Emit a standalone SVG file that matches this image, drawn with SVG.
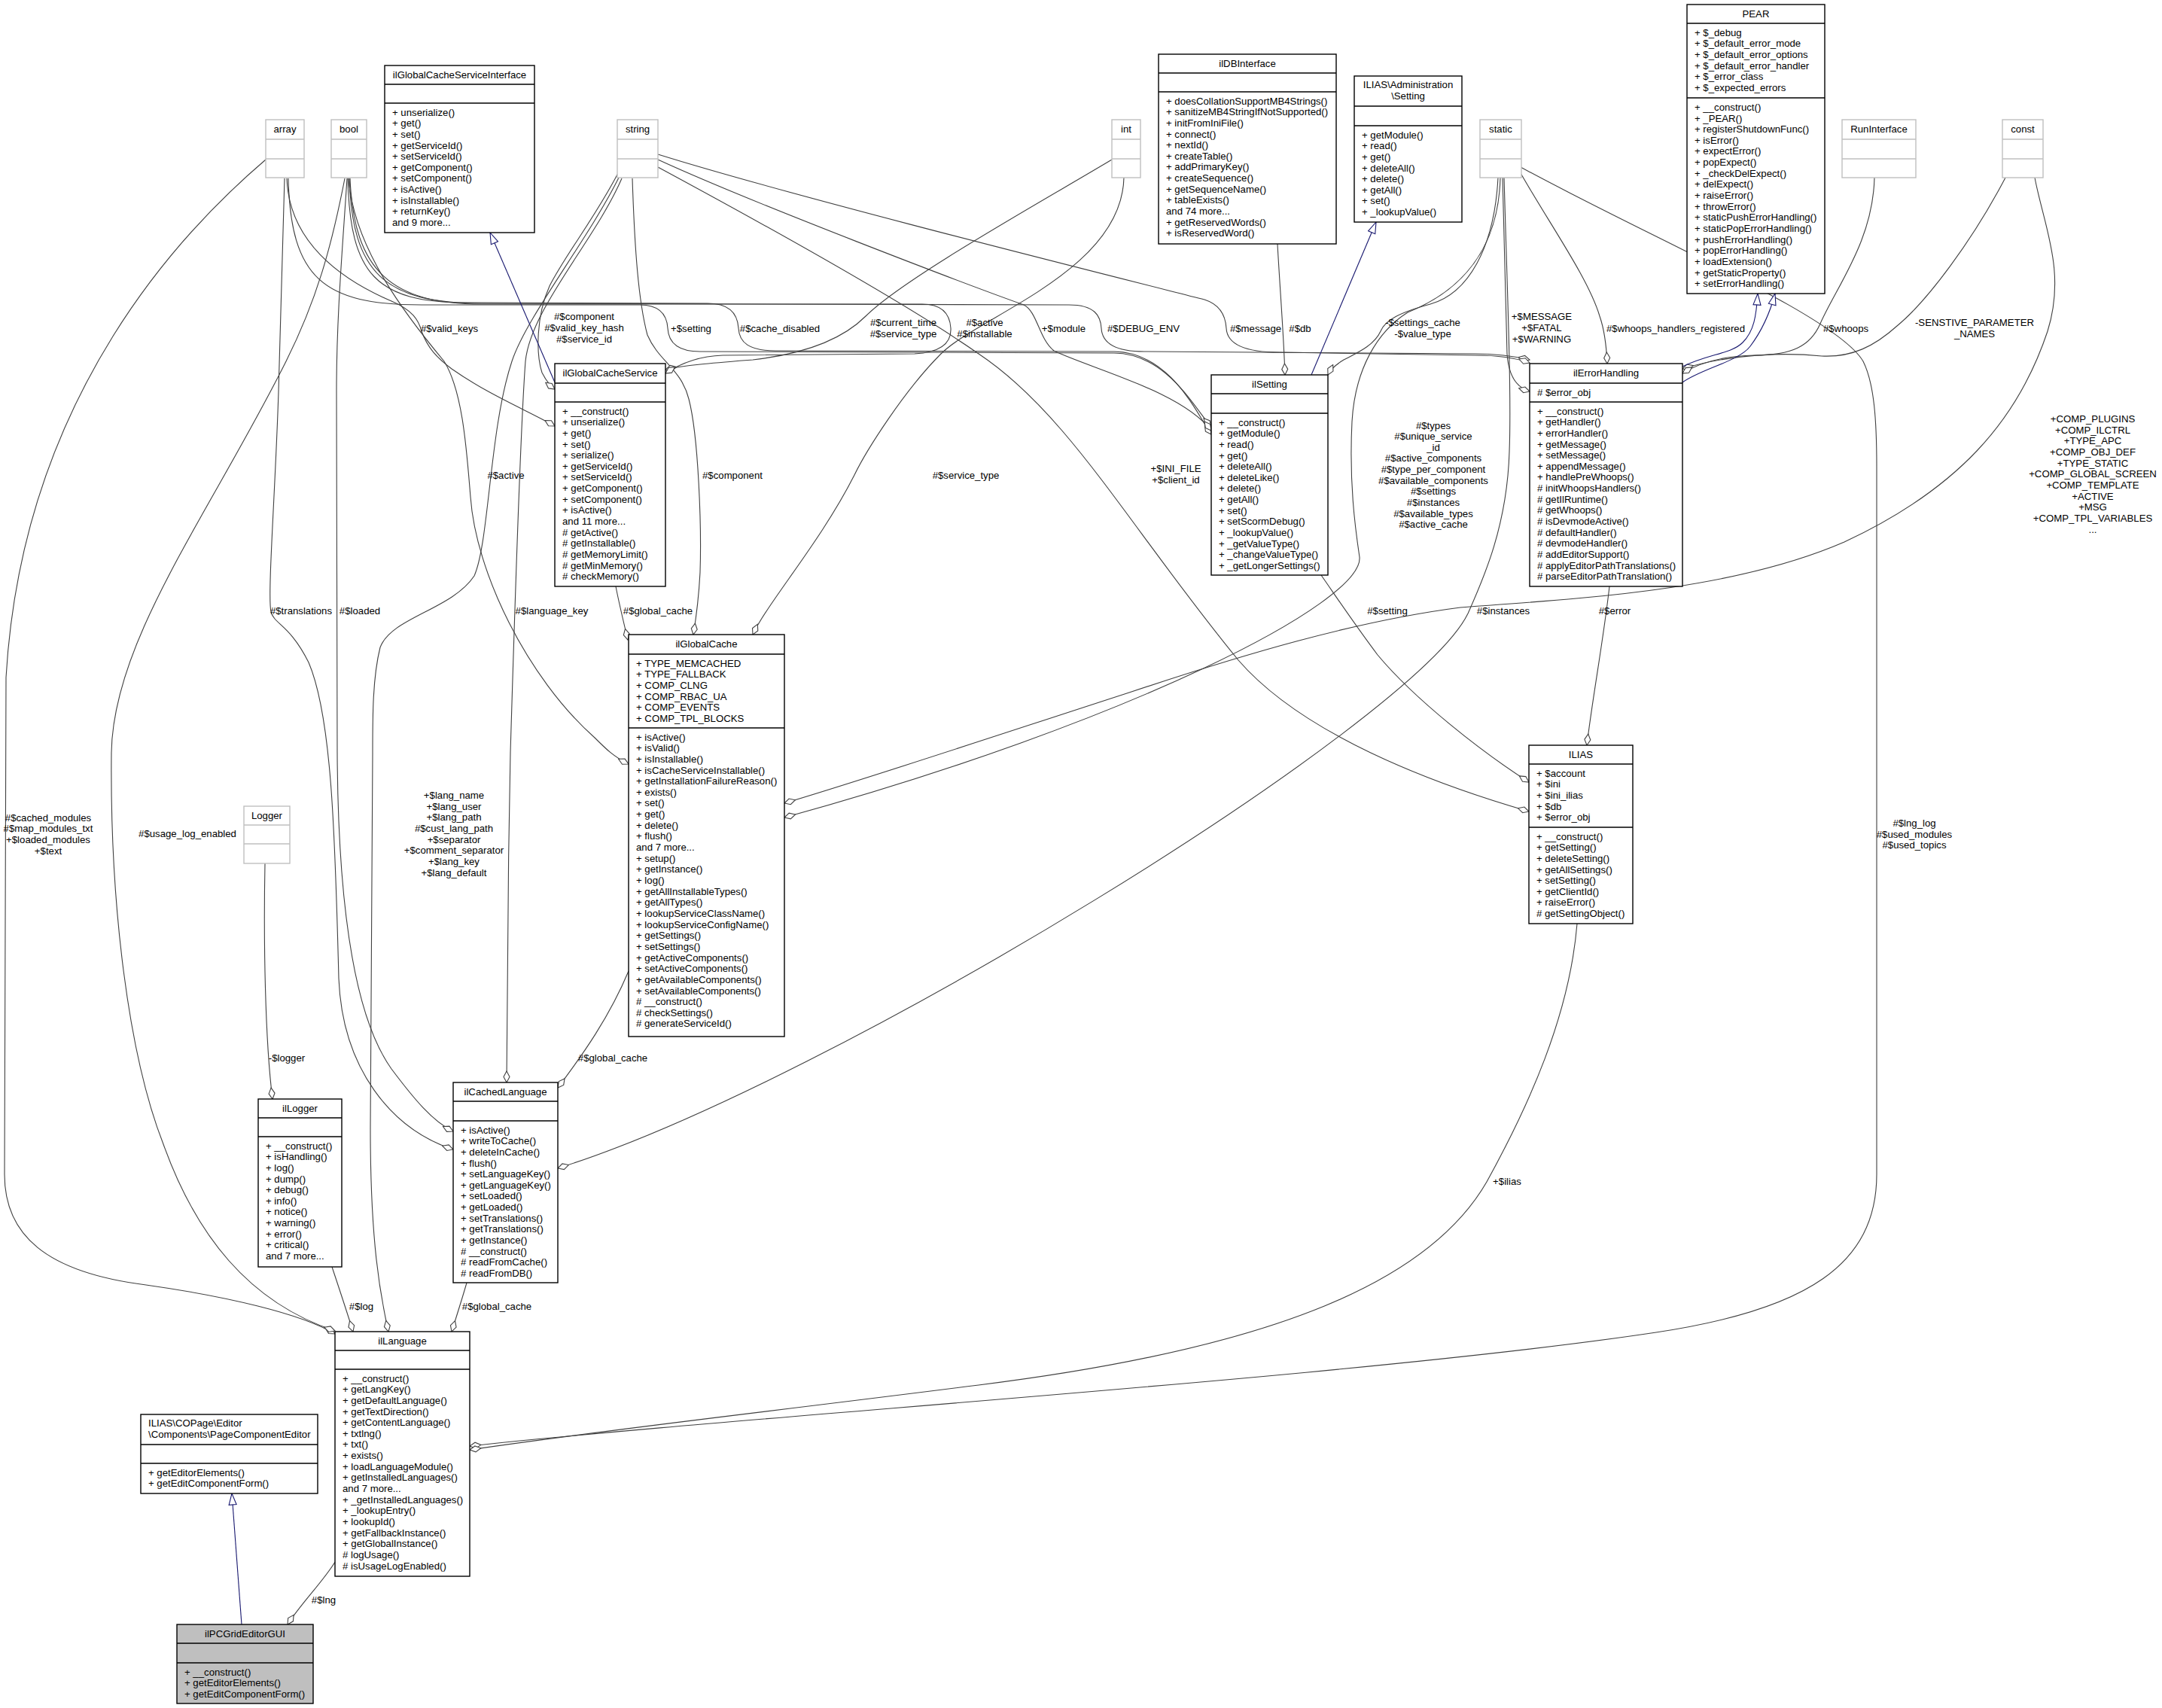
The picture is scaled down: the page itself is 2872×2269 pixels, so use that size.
<svg xmlns="http://www.w3.org/2000/svg" width="2872" height="2269" viewBox="0 0 2872 2269">
<style>
.t{font-family:"Liberation Sans",Arial,Helvetica,sans-serif;font-size:13.2px;fill:#000}
.c{text-anchor:middle}
.n rect{fill:#fff;stroke:#000;stroke-width:1.4}
.n line{stroke:#000;stroke-width:1.4}
.u rect{fill:#fff;stroke:#bfbfbf;stroke-width:1.4}
.u line{stroke:#bfbfbf;stroke-width:1.4}
.root rect{fill:#bfbfbf}
.e{fill:none;stroke:#404040;stroke-width:1.1;marker-end:url(#dia)}
.i{fill:none;stroke:#191970;stroke-width:1.1;marker-end:url(#tri)}
</style>
<defs>
<marker id="dia" markerWidth="17" markerHeight="10" refX="16" refY="5" orient="auto" markerUnits="userSpaceOnUse"><path d="M1,5 L8.5,1 L16,5 L8.5,9 Z" fill="#fff" stroke="#404040" stroke-width="1.1"/></marker>
<marker id="tri" markerWidth="17" markerHeight="13" refX="16" refY="6.5" orient="auto" markerUnits="userSpaceOnUse"><path d="M1,1.5 L16,6.5 L1,11.5 Z" fill="#fff" stroke="#191970" stroke-width="1.1"/></marker>
</defs>
<rect x="0" y="0" width="2872" height="2269" fill="#fff"/>

<g id="connectors">
<path class="e" d="M353,212 C250,300 30,520 8,900 L6,1560 C6,1640 60,1690 194,1707 C300,1722 400,1745 445,1772"/>
<path class="e" d="M458,237 C440,330 420,400 380,480 C280,680 150,850 148,1000 C146,1200 170,1400 217,1520 C260,1640 330,1730 445,1768"/>
<path class="e" d="M378,237 C375,350 372,450 370,520 C366,650 355,790 360,813 C365,830 385,830 410,880 C440,950 445,1100 450,1300 C455,1420 520,1500 602,1527"/>
<path class="e" d="M461,237 C455,330 447,420 447,520 L448,1000 C449,1200 470,1350 520,1420 C550,1460 575,1490 602,1503"/>
<path class="e" d="M822,236 C780,320 700,420 680,480 C650,570 650,720 630,765 C600,810 520,820 505,860 C495,900 495,950 495,1000 L492,1500 C492,1650 505,1720 516,1769"/>
<path class="e" d="M826,237 C790,320 705,410 698,480 C692,560 684,800 678,1000 C675,1150 673,1330 673,1438"/>
<path class="e" d="M821,230 C790,290 750,340 730,380 C712,420 712,470 720,495 C725,505 730,512 737,517"/>
<path class="e" d="M381,237 C384,320 450,370 520,400 C548,412 556,425 560,440 C568,462 580,475 600,490 C650,525 700,545 737,566"/>
<path class="e" d="M818,779 C822,800 828,825 834,850"/>
<path class="e" d="M840,237 C843,330 848,400 860,445 C875,480 905,490 915,530 C928,580 932,700 930,760 C928,800 924,825 921,843"/>
<path class="e" d="M463,237 C470,330 540,420 590,480 C615,520 620,600 625,660 C632,760 700,900 790,980 C805,995 815,1005 835,1015"/>
<path class="e" d="M1493,236 C1490,360 1300,420 1250,470 C1200,520 1150,600 1135,631 C1090,720 1020,800 1000,843"/>
<path class="e" d="M1477,212 C1380,270 1200,370 1150,420 C1120,450 1070,470 1000,478 C950,482 910,485 884,491"/>
<path class="e" d="M465,237 C470,360 520,404 640,404 L1225,404 C1255,404 1262,420 1263,436 C1264,455 1250,468 1215,470 L960,472 C930,473 905,482 884,496"/>
<path class="e" d="M383,237 C386,370 430,405 560,405 L850,405 C878,405 886,420 887,436 C888,455 900,467 930,467 L1480,469 C1550,470 1585,540 1609,567"/>
<path class="e" d="M462,237 C465,365 500,402 620,402 L940,403 C972,403 980,420 981,436 C982,455 995,466 1030,466 L1480,467 C1555,468 1590,550 1609,577"/>
<path class="e" d="M874,212 C1000,270 1290,380 1360,405 C1378,414 1380,450 1400,466 C1450,490 1570,520 1609,572"/>
<path class="e" d="M464,237 C468,362 510,403 640,403 L1420,405 C1455,405 1462,420 1463,436 C1464,455 1480,467 1520,467 L1960,470 C1995,470 2015,474 2032,478"/>
<path class="e" d="M874,205 C1050,260 1450,360 1600,398 C1622,405 1628,420 1629,436 C1630,455 1650,468 1700,468 L1960,472 C1995,472 2015,476 2032,482"/>
<path class="e" d="M1697,324 C1700,380 1705,440 1707,498"/>
<path class="e" d="M1990,236 C1985,330 1950,390 1900,404 C1860,415 1840,425 1834,440 C1825,460 1800,470 1785,478 C1775,484 1768,490 1764,498"/>
<path class="e" d="M1993,236 C1990,350 1920,395 1870,415 C1830,440 1800,490 1796,560 C1792,640 1800,700 1806,740 C1812,800 1500,960 1042,1086"/>
<path class="e" d="M1998,236 C2002,380 2008,520 2005,600 C2002,700 1970,770 1950,815 C1880,960 1100,1440 741,1552"/>
<path class="e" d="M1996,236 C1998,330 2000,420 2002,470 C2004,500 2015,515 2032,520"/>
<path class="e" d="M2020,230 C2060,300 2110,370 2125,420 C2132,440 2134,460 2135,483"/>
<path class="e" d="M2020,222 C2200,320 2440,420 2475,480 C2490,510 2493,560 2493,620 L2493,1560 C2493,1680 2400,1740 2200,1770 C1800,1830 1000,1880 624,1921"/>
<path class="e" d="M2095,1227 C2085,1350 2030,1470 1975,1570 C1900,1700 1700,1790 1300,1840 C1000,1878 800,1900 624,1926"/>
<path class="e" d="M874,222 C1000,290 1200,400 1300,470 C1420,550 1500,700 1645,877 C1730,975 1900,1040 2031,1078"/>
<path class="e" d="M1755,764 C1780,800 1800,830 1830,870 C1880,930 1970,1000 2031,1039"/>
<path class="e" d="M2138,779 C2130,850 2115,930 2108,990"/>
<path class="e" d="M2703,236 C2715,300 2745,360 2720,440 C2680,560 2600,650 2450,720 C2300,785 2100,795 1940,807 C1800,825 1650,870 1500,920 C1300,985 1150,1035 1042,1067"/>
<path class="e" d="M2664,236 C2620,320 2560,400 2520,433 C2490,460 2460,475 2420,473 C2370,468 2300,470 2235,490"/>
<path class="e" d="M2490,236 C2488,320 2440,380 2418,430 C2405,460 2380,472 2330,472 C2290,473 2260,480 2235,496"/>
<path class="e" d="M445,2075 C430,2100 400,2130 382,2158"/>
<path class="e" d="M441,1683 C450,1710 460,1740 469,1769"/>
<path class="e" d="M620,1704 C614,1725 606,1750 600,1769"/>
<path class="e" d="M352,1147 C350,1250 352,1380 362,1460"/>
<path class="e" d="M835,1290 C810,1350 775,1400 741,1445"/>
<path class="i" d="M2235,508 C2260,490 2310,480 2325,460 C2340,440 2350,420 2358,390"/>
<path class="i" d="M2235,487 C2270,470 2300,470 2315,455 C2330,440 2333,420 2335,390"/>
<path class="i" d="M1742,498 L1828,295"/>
<path class="i" d="M737,508 L651,309"/>
<path class="i" d="M321,2158 L308,1984"/>
<g id="edge-labels" class="t">
<text class="t c" x="597" y="440.5">#$valid_keys</text>
<text class="t c" x="776" y="425">#$component</text>
<text class="t c" x="776" y="440">#$valid_key_hash</text>
<text class="t c" x="776" y="455">#$service_id</text>
<text class="t c" x="918" y="440.5">+$setting</text>
<text class="t c" x="1036" y="440.5">#$cache_disabled</text>
<text class="t c" x="1200" y="433">#$current_time</text>
<text class="t c" x="1200" y="447.5">#$service_type</text>
<text class="t c" x="1308" y="433">#$active</text>
<text class="t c" x="1308" y="447.5">#$installable</text>
<text class="t c" x="1413" y="440.5">+$module</text>
<text class="t c" x="1519" y="440.5">#$DEBUG_ENV</text>
<text class="t c" x="1668" y="440.5">#$message</text>
<text class="t c" x="1727" y="440.5">#$db</text>
<text class="t c" x="1890" y="433">-$settings_cache</text>
<text class="t c" x="1890" y="447.5">-$value_type</text>
<text class="t c" x="2048" y="425">+$MESSAGE</text>
<text class="t c" x="2048" y="439.5">+$FATAL</text>
<text class="t c" x="2048" y="454.5">+$WARNING</text>
<text class="t c" x="2226" y="440.5">#$whoops_handlers_registered</text>
<text class="t c" x="2452" y="440.5">#$whoops</text>
<text class="t c" x="2623" y="433">-SENSTIVE_PARAMETER</text>
<text class="t c" x="2623" y="447.5">_NAMES</text>
<text class="t c" x="2780" y="561">+COMP_PLUGINS</text>
<text class="t c" x="2780" y="575.7">+COMP_ILCTRL</text>
<text class="t c" x="2780" y="590.3">+TYPE_APC</text>
<text class="t c" x="2780" y="605">+COMP_OBJ_DEF</text>
<text class="t c" x="2780" y="619.7">+TYPE_STATIC</text>
<text class="t c" x="2780" y="634.3">+COMP_GLOBAL_SCREEN</text>
<text class="t c" x="2780" y="649">+COMP_TEMPLATE</text>
<text class="t c" x="2780" y="663.7">+ACTIVE</text>
<text class="t c" x="2780" y="678.3">+MSG</text>
<text class="t c" x="2780" y="693">+COMP_TPL_VARIABLES</text>
<text class="t c" x="2780" y="707.7">...</text>
<text class="t c" x="672" y="635.5">#$active</text>
<text class="t c" x="973" y="635.5">#$component</text>
<text class="t c" x="1283" y="635.5">#$service_type</text>
<text class="t c" x="1562" y="627">+$INI_FILE</text>
<text class="t c" x="1562" y="642">+$client_id</text>
<text class="t c" x="1904" y="569.5">#$types</text>
<text class="t c" x="1904" y="584.1">#$unique_service</text>
<text class="t c" x="1904" y="598.8">_id</text>
<text class="t c" x="1904" y="613.4">#$active_components</text>
<text class="t c" x="1904" y="628.1">#$type_per_component</text>
<text class="t c" x="1904" y="642.7">#$available_components</text>
<text class="t c" x="1904" y="657.4">#$settings</text>
<text class="t c" x="1904" y="672">#$instances</text>
<text class="t c" x="1904" y="686.7">#$available_types</text>
<text class="t c" x="1904" y="701.3">#$active_cache</text>
<text class="t c" x="400" y="815.5">#$translations</text>
<text class="t c" x="478" y="815.5">#$loaded</text>
<text class="t c" x="733" y="815.5">#$language_key</text>
<text class="t c" x="874" y="815.5">#$global_cache</text>
<text class="t c" x="1843" y="815.5">#$setting</text>
<text class="t c" x="1997" y="815.5">#$instances</text>
<text class="t c" x="2145" y="815.5">#$error</text>
<text class="t c" x="64" y="1090.5">#$cached_modules</text>
<text class="t c" x="64" y="1105">#$map_modules_txt</text>
<text class="t c" x="64" y="1119.5">+$loaded_modules</text>
<text class="t c" x="64" y="1134.5">+$text</text>
<text class="t c" x="249" y="1112">#$usage_log_enabled</text>
<text class="t c" x="603" y="1061">+$lang_name</text>
<text class="t c" x="603" y="1075.6">+$lang_user</text>
<text class="t c" x="603" y="1090.3">+$lang_path</text>
<text class="t c" x="603" y="1104.9">#$cust_lang_path</text>
<text class="t c" x="603" y="1119.6">+$separator</text>
<text class="t c" x="603" y="1134.2">+$comment_separator</text>
<text class="t c" x="603" y="1148.9">+$lang_key</text>
<text class="t c" x="603" y="1163.5">+$lang_default</text>
<text class="t c" x="2543" y="1098">#$lng_log</text>
<text class="t c" x="2543" y="1112.5">#$used_modules</text>
<text class="t c" x="2543" y="1127">#$used_topics</text>
<text class="t c" x="381" y="1409.5">-$logger</text>
<text class="t c" x="814" y="1409.5">#$global_cache</text>
<text class="t c" x="2002" y="1574">+$ilias</text>
<text class="t c" x="480" y="1740">#$log</text>
<text class="t c" x="660" y="1740">#$global_cache</text>
<text class="t c" x="430" y="2129.5">#$lng</text>
</g>
</g>

<g id="ilGlobalCacheServiceInterface" class="n">
<rect x="511" y="87" width="199" height="222"/>
<line x1="511" y1="112" x2="710" y2="112"/><line x1="511" y1="137" x2="710" y2="137"/>
<text class="t c" x="610.5" y="104">ilGlobalCacheServiceInterface</text>
<text class="t" x="521" y="153.5">+ unserialize()</text>
<text class="t" x="521" y="168.2">+ get()</text>
<text class="t" x="521" y="182.8">+ set()</text>
<text class="t" x="521" y="197.5">+ getServiceId()</text>
<text class="t" x="521" y="212.1">+ setServiceId()</text>
<text class="t" x="521" y="226.8">+ getComponent()</text>
<text class="t" x="521" y="241.4">+ setComponent()</text>
<text class="t" x="521" y="256.1">+ isActive()</text>
<text class="t" x="521" y="270.7">+ isInstallable()</text>
<text class="t" x="521" y="285.4">+ returnKey()</text>
<text class="t" x="521" y="300">and 9 more...</text>
</g>

<g id="array" class="u">
<rect x="353" y="159" width="51" height="77"/>
<line x1="353" y1="185" x2="404" y2="185"/><line x1="353" y1="211" x2="404" y2="211"/>
<text class="t c" x="378.5" y="176">array</text>
</g>
<g id="bool" class="u">
<rect x="440" y="159" width="47" height="77"/>
<line x1="440" y1="185" x2="487" y2="185"/><line x1="440" y1="211" x2="487" y2="211"/>
<text class="t c" x="463.5" y="176">bool</text>
</g>
<g id="string" class="u">
<rect x="820" y="159" width="54" height="77"/>
<line x1="820" y1="185" x2="874" y2="185"/><line x1="820" y1="211" x2="874" y2="211"/>
<text class="t c" x="847" y="176">string</text>
</g>
<g id="int" class="u">
<rect x="1477" y="159" width="38" height="77"/>
<line x1="1477" y1="185" x2="1515" y2="185"/><line x1="1477" y1="211" x2="1515" y2="211"/>
<text class="t c" x="1496" y="176">int</text>
</g>
<g id="static" class="u">
<rect x="1966" y="159" width="55" height="77"/>
<line x1="1966" y1="185" x2="2021" y2="185"/><line x1="1966" y1="211" x2="2021" y2="211"/>
<text class="t c" x="1993.5" y="176">static</text>
</g>
<g id="RunInterface" class="u">
<rect x="2447" y="159" width="98" height="77"/>
<line x1="2447" y1="185" x2="2545" y2="185"/><line x1="2447" y1="211" x2="2545" y2="211"/>
<text class="t c" x="2496" y="176">RunInterface</text>
</g>
<g id="const" class="u">
<rect x="2660" y="159" width="54" height="77"/>
<line x1="2660" y1="185" x2="2714" y2="185"/><line x1="2660" y1="211" x2="2714" y2="211"/>
<text class="t c" x="2687" y="176">const</text>
</g>

<g id="ilDBInterface" class="n">
<rect x="1539" y="72" width="236" height="252"/>
<line x1="1539" y1="97" x2="1775" y2="97"/><line x1="1539" y1="122" x2="1775" y2="122"/>
<text class="t c" x="1657" y="89">ilDBInterface</text>
<text class="t" x="1549" y="138.5">+ doesCollationSupportMB4Strings()</text>
<text class="t" x="1549" y="153.2">+ sanitizeMB4StringIfNotSupported()</text>
<text class="t" x="1549" y="167.8">+ initFromIniFile()</text>
<text class="t" x="1549" y="182.5">+ connect()</text>
<text class="t" x="1549" y="197.1">+ nextId()</text>
<text class="t" x="1549" y="211.8">+ createTable()</text>
<text class="t" x="1549" y="226.4">+ addPrimaryKey()</text>
<text class="t" x="1549" y="241.1">+ createSequence()</text>
<text class="t" x="1549" y="255.7">+ getSequenceName()</text>
<text class="t" x="1549" y="270.4">+ tableExists()</text>
<text class="t" x="1549" y="285">and 74 more...</text>
<text class="t" x="1549" y="299.7">+ getReservedWords()</text>
<text class="t" x="1549" y="314.3">+ isReservedWord()</text>
</g>

<g id="AdministrationSetting" class="n">
<rect x="1799" y="101" width="143" height="194"/>
<line x1="1799" y1="141" x2="1942" y2="141"/><line x1="1799" y1="167" x2="1942" y2="167"/>
<text class="t c" x="1870.5" y="117">ILIAS\Administration</text>
<text class="t c" x="1870.5" y="132">\Setting</text>
<text class="t" x="1809" y="183.5">+ getModule()</text>
<text class="t" x="1809" y="198.2">+ read()</text>
<text class="t" x="1809" y="212.8">+ get()</text>
<text class="t" x="1809" y="227.5">+ deleteAll()</text>
<text class="t" x="1809" y="242.1">+ delete()</text>
<text class="t" x="1809" y="256.8">+ getAll()</text>
<text class="t" x="1809" y="271.4">+ set()</text>
<text class="t" x="1809" y="286.1">+ _lookupValue()</text>
</g>

<g id="PEAR" class="n">
<rect x="2241" y="6" width="183" height="384"/>
<line x1="2241" y1="31" x2="2424" y2="31"/><line x1="2241" y1="130" x2="2424" y2="130"/>
<text class="t c" x="2332.5" y="23">PEAR</text>
<text class="t" x="2251" y="47.5">+ $_debug</text>
<text class="t" x="2251" y="62.2">+ $_default_error_mode</text>
<text class="t" x="2251" y="76.8">+ $_default_error_options</text>
<text class="t" x="2251" y="91.5">+ $_default_error_handler</text>
<text class="t" x="2251" y="106.1">+ $_error_class</text>
<text class="t" x="2251" y="120.8">+ $_expected_errors</text>
<text class="t" x="2251" y="146.8">+ __construct()</text>
<text class="t" x="2251" y="161.5">+ _PEAR()</text>
<text class="t" x="2251" y="176.1">+ registerShutdownFunc()</text>
<text class="t" x="2251" y="190.8">+ isError()</text>
<text class="t" x="2251" y="205.4">+ expectError()</text>
<text class="t" x="2251" y="220.1">+ popExpect()</text>
<text class="t" x="2251" y="234.7">+ _checkDelExpect()</text>
<text class="t" x="2251" y="249.4">+ delExpect()</text>
<text class="t" x="2251" y="264">+ raiseError()</text>
<text class="t" x="2251" y="278.7">+ throwError()</text>
<text class="t" x="2251" y="293.3">+ staticPushErrorHandling()</text>
<text class="t" x="2251" y="308">+ staticPopErrorHandling()</text>
<text class="t" x="2251" y="322.6">+ pushErrorHandling()</text>
<text class="t" x="2251" y="337.3">+ popErrorHandling()</text>
<text class="t" x="2251" y="351.9">+ loadExtension()</text>
<text class="t" x="2251" y="366.6">+ getStaticProperty()</text>
<text class="t" x="2251" y="381.2">+ setErrorHandling()</text>
</g>

<g id="ilGlobalCacheService" class="n">
<rect x="737" y="483" width="147" height="296"/>
<line x1="737" y1="509" x2="884" y2="509"/><line x1="737" y1="534" x2="884" y2="534"/>
<text class="t c" x="810.5" y="500">ilGlobalCacheService</text>
<text class="t" x="747" y="550.5">+ __construct()</text>
<text class="t" x="747" y="565.2">+ unserialize()</text>
<text class="t" x="747" y="579.8">+ get()</text>
<text class="t" x="747" y="594.5">+ set()</text>
<text class="t" x="747" y="609.1">+ serialize()</text>
<text class="t" x="747" y="623.8">+ getServiceId()</text>
<text class="t" x="747" y="638.4">+ setServiceId()</text>
<text class="t" x="747" y="653.1">+ getComponent()</text>
<text class="t" x="747" y="667.7">+ setComponent()</text>
<text class="t" x="747" y="682.4">+ isActive()</text>
<text class="t" x="747" y="697">and 11 more...</text>
<text class="t" x="747" y="711.7"># getActive()</text>
<text class="t" x="747" y="726.3"># getInstallable()</text>
<text class="t" x="747" y="741"># getMemoryLimit()</text>
<text class="t" x="747" y="755.6"># getMinMemory()</text>
<text class="t" x="747" y="770.3"># checkMemory()</text>
</g>

<g id="ilSetting" class="n">
<rect x="1609" y="498" width="155" height="266"/>
<line x1="1609" y1="523" x2="1764" y2="523"/><line x1="1609" y1="549" x2="1764" y2="549"/>
<text class="t c" x="1686.5" y="515">ilSetting</text>
<text class="t" x="1619" y="565.5">+ __construct()</text>
<text class="t" x="1619" y="580.2">+ getModule()</text>
<text class="t" x="1619" y="594.8">+ read()</text>
<text class="t" x="1619" y="609.5">+ get()</text>
<text class="t" x="1619" y="624.1">+ deleteAll()</text>
<text class="t" x="1619" y="638.8">+ deleteLike()</text>
<text class="t" x="1619" y="653.4">+ delete()</text>
<text class="t" x="1619" y="668.1">+ getAll()</text>
<text class="t" x="1619" y="682.7">+ set()</text>
<text class="t" x="1619" y="697.4">+ setScormDebug()</text>
<text class="t" x="1619" y="712">+ _lookupValue()</text>
<text class="t" x="1619" y="726.7">+ _getValueType()</text>
<text class="t" x="1619" y="741.3">+ _changeValueType()</text>
<text class="t" x="1619" y="756">+ _getLongerSettings()</text>
</g>

<g id="ilErrorHandling" class="n">
<rect x="2032" y="483" width="203" height="296"/>
<line x1="2032" y1="509" x2="2235" y2="509"/><line x1="2032" y1="534" x2="2235" y2="534"/>
<text class="t c" x="2133.5" y="500">ilErrorHandling</text>
<text class="t" x="2042" y="525.5"># $error_obj</text>
<text class="t" x="2042" y="550.5">+ __construct()</text>
<text class="t" x="2042" y="565.2">+ getHandler()</text>
<text class="t" x="2042" y="579.8">+ errorHandler()</text>
<text class="t" x="2042" y="594.5">+ getMessage()</text>
<text class="t" x="2042" y="609.1">+ setMessage()</text>
<text class="t" x="2042" y="623.8">+ appendMessage()</text>
<text class="t" x="2042" y="638.4">+ handlePreWhoops()</text>
<text class="t" x="2042" y="653.1"># initWhoopsHandlers()</text>
<text class="t" x="2042" y="667.7"># getIlRuntime()</text>
<text class="t" x="2042" y="682.4"># getWhoops()</text>
<text class="t" x="2042" y="697"># isDevmodeActive()</text>
<text class="t" x="2042" y="711.7"># defaultHandler()</text>
<text class="t" x="2042" y="726.3"># devmodeHandler()</text>
<text class="t" x="2042" y="741"># addEditorSupport()</text>
<text class="t" x="2042" y="755.6"># applyEditorPathTranslations()</text>
<text class="t" x="2042" y="770.3"># parseEditorPathTranslation()</text>
</g>

<g id="ilGlobalCache" class="n">
<rect x="835" y="843" width="207" height="534"/>
<line x1="835" y1="869" x2="1042" y2="869"/><line x1="835" y1="967" x2="1042" y2="967"/>
<text class="t c" x="938.5" y="860">ilGlobalCache</text>
<text class="t" x="845" y="885.5">+ TYPE_MEMCACHED</text>
<text class="t" x="845" y="900.2">+ TYPE_FALLBACK</text>
<text class="t" x="845" y="914.8">+ COMP_CLNG</text>
<text class="t" x="845" y="929.5">+ COMP_RBAC_UA</text>
<text class="t" x="845" y="944.1">+ COMP_EVENTS</text>
<text class="t" x="845" y="958.8">+ COMP_TPL_BLOCKS</text>
<text class="t" x="845" y="983.5">+ isActive()</text>
<text class="t" x="845" y="998.2">+ isValid()</text>
<text class="t" x="845" y="1012.8">+ isInstallable()</text>
<text class="t" x="845" y="1027.5">+ isCacheServiceInstallable()</text>
<text class="t" x="845" y="1042.1">+ getInstallationFailureReason()</text>
<text class="t" x="845" y="1056.8">+ exists()</text>
<text class="t" x="845" y="1071.4">+ set()</text>
<text class="t" x="845" y="1086.1">+ get()</text>
<text class="t" x="845" y="1100.7">+ delete()</text>
<text class="t" x="845" y="1115.4">+ flush()</text>
<text class="t" x="845" y="1130">and 7 more...</text>
<text class="t" x="845" y="1144.7">+ setup()</text>
<text class="t" x="845" y="1159.3">+ getInstance()</text>
<text class="t" x="845" y="1174">+ log()</text>
<text class="t" x="845" y="1188.6">+ getAllInstallableTypes()</text>
<text class="t" x="845" y="1203.3">+ getAllTypes()</text>
<text class="t" x="845" y="1217.9">+ lookupServiceClassName()</text>
<text class="t" x="845" y="1232.6">+ lookupServiceConfigName()</text>
<text class="t" x="845" y="1247.2">+ getSettings()</text>
<text class="t" x="845" y="1261.9">+ setSettings()</text>
<text class="t" x="845" y="1276.5">+ getActiveComponents()</text>
<text class="t" x="845" y="1291.2">+ setActiveComponents()</text>
<text class="t" x="845" y="1305.8">+ getAvailableComponents()</text>
<text class="t" x="845" y="1320.5">+ setAvailableComponents()</text>
<text class="t" x="845" y="1335.1"># __construct()</text>
<text class="t" x="845" y="1349.8"># checkSettings()</text>
<text class="t" x="845" y="1364.4"># generateServiceId()</text>
</g>

<g id="ILIAS" class="n">
<rect x="2031" y="990" width="138" height="237"/>
<line x1="2031" y1="1015" x2="2169" y2="1015"/><line x1="2031" y1="1099" x2="2169" y2="1099"/>
<text class="t c" x="2100" y="1007">ILIAS</text>
<text class="t" x="2041" y="1031.5">+ $account</text>
<text class="t" x="2041" y="1046.2">+ $ini</text>
<text class="t" x="2041" y="1060.8">+ $ini_ilias</text>
<text class="t" x="2041" y="1075.5">+ $db</text>
<text class="t" x="2041" y="1090.1">+ $error_obj</text>
<text class="t" x="2041" y="1115.5">+ __construct()</text>
<text class="t" x="2041" y="1130.2">+ getSetting()</text>
<text class="t" x="2041" y="1144.8">+ deleteSetting()</text>
<text class="t" x="2041" y="1159.5">+ getAllSettings()</text>
<text class="t" x="2041" y="1174.1">+ setSetting()</text>
<text class="t" x="2041" y="1188.8">+ getClientId()</text>
<text class="t" x="2041" y="1203.4">+ raiseError()</text>
<text class="t" x="2041" y="1218.1"># getSettingObject()</text>
</g>

<g id="Logger" class="u">
<rect x="324" y="1071" width="61" height="76"/>
<line x1="324" y1="1096" x2="385" y2="1096"/><line x1="324" y1="1121" x2="385" y2="1121"/>
<text class="t c" x="354.5" y="1088">Logger</text>
</g>

<g id="ilLogger" class="n">
<rect x="343" y="1460" width="111" height="223"/>
<line x1="343" y1="1485" x2="454" y2="1485"/><line x1="343" y1="1510" x2="454" y2="1510"/>
<text class="t c" x="398.5" y="1477">ilLogger</text>
<text class="t" x="353" y="1526.5">+ __construct()</text>
<text class="t" x="353" y="1541.2">+ isHandling()</text>
<text class="t" x="353" y="1555.8">+ log()</text>
<text class="t" x="353" y="1570.5">+ dump()</text>
<text class="t" x="353" y="1585.1">+ debug()</text>
<text class="t" x="353" y="1599.8">+ info()</text>
<text class="t" x="353" y="1614.4">+ notice()</text>
<text class="t" x="353" y="1629.1">+ warning()</text>
<text class="t" x="353" y="1643.7">+ error()</text>
<text class="t" x="353" y="1658.4">+ critical()</text>
<text class="t" x="353" y="1673">and 7 more...</text>
</g>

<g id="ilCachedLanguage" class="n">
<rect x="602" y="1438" width="139" height="266"/>
<line x1="602" y1="1463" x2="741" y2="1463"/><line x1="602" y1="1489" x2="741" y2="1489"/>
<text class="t c" x="671.5" y="1455">ilCachedLanguage</text>
<text class="t" x="612" y="1505.5">+ isActive()</text>
<text class="t" x="612" y="1520.2">+ writeToCache()</text>
<text class="t" x="612" y="1534.8">+ deleteInCache()</text>
<text class="t" x="612" y="1549.5">+ flush()</text>
<text class="t" x="612" y="1564.1">+ setLanguageKey()</text>
<text class="t" x="612" y="1578.8">+ getLanguageKey()</text>
<text class="t" x="612" y="1593.4">+ setLoaded()</text>
<text class="t" x="612" y="1608.1">+ getLoaded()</text>
<text class="t" x="612" y="1622.7">+ setTranslations()</text>
<text class="t" x="612" y="1637.4">+ getTranslations()</text>
<text class="t" x="612" y="1652">+ getInstance()</text>
<text class="t" x="612" y="1666.7"># __construct()</text>
<text class="t" x="612" y="1681.3"># readFromCache()</text>
<text class="t" x="612" y="1696"># readFromDB()</text>
</g>

<g id="ilLanguage" class="n">
<rect x="445" y="1769" width="179" height="325"/>
<line x1="445" y1="1794" x2="624" y2="1794"/><line x1="445" y1="1819" x2="624" y2="1819"/>
<text class="t c" x="534.5" y="1786">ilLanguage</text>
<text class="t" x="455" y="1835.5">+ __construct()</text>
<text class="t" x="455" y="1850.2">+ getLangKey()</text>
<text class="t" x="455" y="1864.8">+ getDefaultLanguage()</text>
<text class="t" x="455" y="1879.5">+ getTextDirection()</text>
<text class="t" x="455" y="1894.1">+ getContentLanguage()</text>
<text class="t" x="455" y="1908.8">+ txtlng()</text>
<text class="t" x="455" y="1923.4">+ txt()</text>
<text class="t" x="455" y="1938.1">+ exists()</text>
<text class="t" x="455" y="1952.7">+ loadLanguageModule()</text>
<text class="t" x="455" y="1967.4">+ getInstalledLanguages()</text>
<text class="t" x="455" y="1982">and 7 more...</text>
<text class="t" x="455" y="1996.7">+ _getInstalledLanguages()</text>
<text class="t" x="455" y="2011.3">+ _lookupEntry()</text>
<text class="t" x="455" y="2026">+ lookupId()</text>
<text class="t" x="455" y="2040.6">+ getFallbackInstance()</text>
<text class="t" x="455" y="2055.3">+ getGlobalInstance()</text>
<text class="t" x="455" y="2069.9"># logUsage()</text>
<text class="t" x="455" y="2084.6"># isUsageLogEnabled()</text>
</g>

<g id="PageComponentEditor" class="n">
<rect x="187" y="1879" width="235" height="105"/>
<line x1="187" y1="1919" x2="422" y2="1919"/><line x1="187" y1="1944" x2="422" y2="1944"/>
<text class="t" x="197" y="1895">ILIAS\COPage\Editor</text>
<text class="t" x="197" y="1909.5">\Components\PageComponentEditor</text>
<text class="t" x="197" y="1960.5">+ getEditorElements()</text>
<text class="t" x="197" y="1975.2">+ getEditComponentForm()</text>
</g>

<g id="ilPCGridEditorGUI" class="n root">
<rect x="235" y="2158" width="181" height="105"/>
<line x1="235" y1="2183" x2="416" y2="2183"/><line x1="235" y1="2209" x2="416" y2="2209"/>
<text class="t c" x="325.5" y="2175">ilPCGridEditorGUI</text>
<text class="t" x="245" y="2225.5">+ __construct()</text>
<text class="t" x="245" y="2240.2">+ getEditorElements()</text>
<text class="t" x="245" y="2254.8">+ getEditComponentForm()</text>
</g>
</svg>
